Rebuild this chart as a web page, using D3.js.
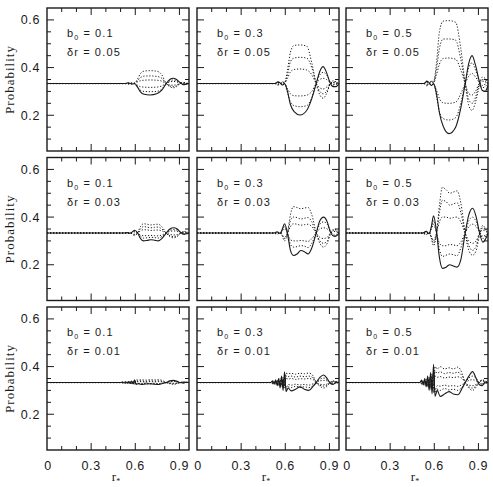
<!DOCTYPE html>
<html><head><meta charset="utf-8">
<script src="https://cdn.jsdelivr.net/npm/d3@7/dist/d3.min.js"></script>
<style>body{margin:0;background:#fff}svg{display:block}</style>
</head><body>
<svg id="chart" width="493" height="487"></svg>
<script>
// ---- data ----
const b0Values = ["0.1", "0.3", "0.5"];
const drValues = ["0.05", "0.03", "0.01"];
const xTickLabels = [0, 0.3, 0.6, 0.9];
const yTickLabels = [0.2, 0.4, 0.6];

// r grids per row (delta r)
const rRow1 = [0, 0.53, 0.55, 0.565, 0.58, 0.595, 0.615, 0.635, 0.66, 0.70, 0.745, 0.78, 0.81, 0.835, 0.857, 0.88, 0.905, 0.925, 0.945, 0.965];
const rRow2 = [0, 0.52, 0.545, 0.565, 0.58, 0.595, 0.615, 0.635, 0.655, 0.68, 0.705, 0.73, 0.755, 0.78, 0.81, 0.835, 0.86, 0.885, 0.905, 0.93, 0.95, 0.965];
const rRow3 = [0, 0.50, 0.515, 0.525, 0.535, 0.545, 0.555, 0.565, 0.575, 0.585, 0.595, 0.605, 0.62, 0.64, 0.67, 0.70, 0.73, 0.76, 0.79, 0.81, 0.835, 0.86, 0.885, 0.905, 0.925, 0.945, 0.965];

// each panel: [solid, dotted1..dotted5]
const row1col1 = [
  [.333,.333,.336,.334,.331,.333,.318,.298,.288,.285,.29,.305,.333,.35,.355,.35,.337,.328,.33,.333],
  [.333,.333,.331,.333,.336,.335,.352,.375,.385,.387,.385,.37,.333,.32,.315,.32,.333,.338,.335,.333],
  [.333,.333,.332,.333,.335,.334,.345,.358,.364,.365,.363,.355,.333,.323,.32,.323,.333,.336,.334,.333],
  [.333,.333,.332,.333,.334,.334,.34,.345,.347,.348,.347,.343,.333,.327,.326,.328,.333,.335,.334,.333],
  [.333,.333,.334,.333,.332,.333,.326,.32,.318,.317,.318,.323,.333,.34,.342,.34,.335,.331,.332,.333],
  [.333,.333,.335,.333,.331,.332,.318,.305,.30,.299,.30,.31,.333,.345,.348,.345,.336,.33,.331,.333]
];
const row1col2 = [
  [.333,.333,.34,.336,.327,.333,.30,.245,.215,.201,.22,.27,.333,.385,.404,.38,.335,.32,.32,.333],
  [.333,.333,.326,.332,.34,.338,.39,.465,.493,.495,.49,.42,.333,.285,.271,.29,.33,.345,.34,.333],
  [.333,.333,.328,.333,.338,.336,.37,.425,.44,.443,.44,.40,.333,.30,.29,.30,.333,.34,.338,.333],
  [.333,.333,.33,.333,.336,.335,.355,.382,.392,.394,.39,.37,.333,.315,.31,.318,.333,.337,.335,.333],
  [.333,.333,.336,.333,.33,.332,.312,.29,.282,.281,.284,.30,.333,.35,.355,.35,.337,.33,.332,.333],
  [.333,.333,.338,.334,.328,.33,.295,.255,.24,.236,.24,.275,.333,.37,.38,.37,.34,.327,.33,.333]
];
const row1col3 = [
  [.333,.333,.343,.337,.325,.333,.29,.21,.155,.123,.15,.23,.333,.42,.45,.41,.345,.305,.30,.325],
  [.333,.333,.323,.33,.345,.34,.42,.55,.595,.597,.59,.48,.333,.24,.22,.255,.32,.36,.355,.335],
  [.333,.333,.326,.332,.342,.338,.395,.48,.52,.52,.515,.435,.333,.265,.25,.275,.33,.35,.345,.333],
  [.333,.333,.329,.333,.338,.336,.37,.415,.438,.44,.435,.39,.333,.29,.285,.30,.333,.343,.34,.333],
  [.333,.333,.337,.333,.328,.33,.305,.27,.252,.25,.255,.29,.333,.365,.375,.36,.338,.325,.33,.333],
  [.333,.333,.34,.334,.325,.33,.28,.215,.186,.18,.19,.25,.333,.40,.42,.39,.343,.315,.32,.333]
];
const row2col1 = [
  [.333,.333,.335,.332,.338,.345,.335,.31,.30,.302,.305,.303,.30,.31,.333,.35,.355,.35,.338,.328,.33,.333],
  [.333,.333,.331,.334,.328,.322,.333,.36,.372,.37,.367,.369,.37,.36,.333,.318,.313,.318,.33,.34,.337,.333],
  [.333,.333,.332,.334,.329,.325,.333,.35,.36,.358,.355,.357,.358,.35,.333,.322,.318,.322,.332,.338,.336,.333],
  [.333,.333,.332,.333,.33,.328,.333,.342,.347,.346,.344,.345,.346,.342,.333,.327,.325,.327,.332,.336,.335,.333],
  [.333,.333,.334,.333,.336,.338,.333,.325,.322,.322,.323,.322,.321,.325,.333,.34,.342,.34,.336,.33,.332,.333],
  [.333,.333,.334,.332,.337,.341,.333,.32,.312,.313,.315,.314,.312,.318,.333,.345,.348,.345,.337,.328,.33,.333]
];
const row2col2 = [
  [.333,.333,.338,.331,.35,.372,.33,.26,.239,.245,.26,.255,.245,.27,.333,.385,.40,.38,.34,.32,.322,.333],
  [.333,.333,.328,.334,.32,.30,.333,.41,.444,.44,.435,.438,.44,.41,.333,.29,.274,.29,.325,.35,.345,.333],
  [.333,.333,.33,.334,.322,.31,.333,.385,.40,.398,.392,.395,.398,.38,.333,.30,.29,.30,.33,.345,.34,.333],
  [.333,.333,.331,.334,.325,.315,.333,.36,.372,.37,.366,.368,.37,.36,.333,.315,.31,.315,.332,.34,.337,.333],
  [.333,.333,.335,.333,.342,.35,.333,.305,.30,.30,.302,.30,.298,.31,.333,.35,.355,.35,.34,.325,.328,.333],
  [.333,.333,.336,.332,.345,.36,.333,.285,.274,.276,.28,.278,.272,.29,.333,.37,.38,.37,.345,.318,.322,.333]
];
const row2col3 = [
  [.333,.333,.34,.33,.36,.405,.34,.23,.185,.19,.20,.195,.19,.22,.333,.41,.437,.40,.34,.295,.31,.33],
  [.333,.333,.326,.335,.31,.28,.33,.45,.525,.515,.50,.505,.51,.46,.333,.26,.24,.26,.32,.365,.35,.335],
  [.333,.333,.328,.334,.315,.29,.33,.42,.47,.465,.45,.455,.46,.42,.333,.28,.26,.28,.325,.355,.345,.333],
  [.333,.333,.33,.334,.32,.30,.333,.38,.40,.40,.395,.398,.40,.38,.333,.30,.29,.30,.33,.345,.34,.333],
  [.333,.333,.336,.333,.35,.37,.333,.29,.28,.28,.285,.283,.28,.295,.333,.36,.37,.36,.34,.32,.325,.333],
  [.333,.333,.338,.332,.355,.385,.333,.265,.235,.24,.245,.242,.238,.27,.333,.385,.40,.38,.345,.31,.32,.333]
];
const row3col1 = [
  [.333,.333,.335,.331,.336,.33,.337,.329,.339,.327,.345,.325,.328,.325,.327,.328,.326,.325,.33,.333,.34,.342,.338,.333,.331,.334,.333],
  [.333,.333,.332,.335,.331,.336,.33,.337,.329,.338,.326,.345,.343,.345,.343,.345,.344,.345,.34,.333,.328,.326,.328,.333,.336,.335,.333],
  [.333,.333,.332,.334,.331,.335,.33,.336,.329,.337,.328,.34,.339,.34,.338,.34,.339,.34,.337,.333,.329,.328,.33,.333,.335,.334,.333],
  [.333,.333,.333,.334,.332,.334,.331,.335,.33,.336,.33,.337,.336,.337,.335,.337,.336,.337,.335,.333,.331,.33,.331,.333,.334,.334,.333],
  [.333,.333,.334,.332,.334,.331,.335,.33,.336,.329,.337,.328,.33,.329,.331,.329,.33,.329,.331,.333,.336,.337,.336,.333,.332,.333,.333],
  [.333,.333,.334,.332,.335,.331,.336,.329,.337,.328,.34,.326,.328,.327,.329,.327,.328,.327,.33,.333,.338,.339,.337,.333,.332,.333,.333]
];
const row3col2 = [
  [.333,.333,.34,.326,.345,.32,.35,.31,.36,.30,.378,.295,.31,.298,.305,.315,.305,.30,.318,.333,.355,.365,.35,.33,.325,.335,.333],
  [.333,.333,.328,.338,.325,.343,.32,.35,.315,.355,.31,.372,.37,.372,.368,.372,.37,.373,.36,.333,.318,.31,.318,.333,.34,.337,.333],
  [.333,.333,.33,.336,.328,.34,.325,.345,.32,.348,.316,.36,.358,.36,.356,.36,.358,.36,.352,.333,.322,.318,.323,.334,.338,.335,.333],
  [.333,.333,.331,.335,.33,.337,.328,.34,.325,.342,.322,.35,.348,.35,.346,.349,.348,.35,.345,.333,.326,.324,.327,.334,.336,.335,.333],
  [.333,.333,.335,.331,.337,.328,.34,.325,.345,.318,.35,.31,.325,.322,.326,.323,.325,.322,.328,.333,.34,.342,.34,.333,.33,.331,.333],
  [.333,.333,.336,.33,.34,.326,.343,.32,.35,.312,.358,.305,.315,.312,.317,.313,.315,.312,.32,.333,.347,.352,.345,.334,.328,.33,.333]
];
const row3col3 = [
  [.333,.333,.343,.323,.35,.315,.36,.30,.375,.285,.41,.275,.30,.275,.285,.295,.285,.282,.31,.333,.36,.379,.35,.325,.32,.335,.333],
  [.333,.333,.327,.34,.322,.348,.315,.356,.305,.37,.29,.40,.39,.40,.39,.395,.39,.398,.37,.333,.31,.30,.315,.335,.345,.34,.333],
  [.333,.333,.328,.338,.325,.345,.318,.352,.31,.36,.30,.38,.372,.378,.37,.375,.372,.376,.36,.333,.315,.31,.32,.335,.342,.338,.333],
  [.333,.333,.33,.336,.328,.34,.322,.346,.318,.35,.312,.36,.355,.358,.352,.356,.354,.357,.35,.333,.322,.32,.325,.334,.34,.336,.333],
  [.333,.333,.336,.33,.338,.326,.342,.32,.35,.31,.36,.30,.32,.318,.322,.318,.32,.317,.325,.333,.342,.345,.34,.333,.328,.33,.333],
  [.333,.333,.338,.328,.342,.322,.348,.312,.36,.30,.375,.29,.305,.30,.308,.302,.305,.30,.315,.333,.352,.36,.35,.335,.325,.328,.333]
];

const rGrids = [rRow1, rRow2, rRow3];
const panelSeries = [
  [row1col1, row1col2, row1col3],
  [row2col1, row2col2, row2col3],
  [row3col1, row3col2, row3col3]
];

// ---- layout ----
const panelLeft = [47, 197, 346];
const panelTop = [8, 157.5, 307];
const W = 142, H = 143;
const ink = "#1a1a1a";

const svg = d3.select("#chart");
svg.append("rect").attr("width", 493).attr("height", 487).attr("fill", "#fff");

const x = d3.scaleLinear().domain([0, 0.965]).range([0, W]);
const y = d3.scaleLinear().domain([0.05, 0.65]).range([H, 0]);

const xTicks = d3.range(1, 10).map(d => d / 10);
const yTicks = d3.range(2, 13).map(d => d * 0.05);
const isMajorX = v => Math.abs(v * 10 % 3) < 1e-6 || Math.abs(v * 10 % 3 - 3) < 1e-6;
const isMajorY = v => Math.abs((v / 0.2) - Math.round(v / 0.2)) < 1e-6;

const line = d3.line().curve(d3.curveMonotoneX);

for (let row = 0; row < 3; row++) {
  for (let col = 0; col < 3; col++) {
    const g = svg.append("g").attr("transform", `translate(${panelLeft[col]},${panelTop[row]})`);
    const rs = rGrids[row];
    const series = panelSeries[row][col];

    series.forEach((vals, i) => {
      const pts = rs.map((r, k) => [x(r), y(vals[k])]);
      g.append("path")
        .attr("d", line(pts))
        .attr("fill", "none")
        .attr("stroke", ink)
        .attr("stroke-width", i === 0 ? 1.1 : 1.0)
        .attr("stroke-dasharray", i === 0 ? null : "1.2,1.8");
    });

    const tk = g.append("g").attr("stroke", ink).attr("stroke-width", 1);
    xTicks.forEach(v => {
      const L = isMajorX(v) ? 7 : 4;
      const px = x(v);
      tk.append("line").attr("x1", px).attr("x2", px).attr("y1", 0).attr("y2", L);
      tk.append("line").attr("x1", px).attr("x2", px).attr("y1", H).attr("y2", H - L);
    });
    yTicks.forEach(v => {
      const L = isMajorY(v) ? 7 : 4;
      const py = y(v);
      tk.append("line").attr("x1", 0).attr("x2", L).attr("y1", py).attr("y2", py);
      tk.append("line").attr("x1", W).attr("x2", W - L).attr("y1", py).attr("y2", py);
    });

    g.append("rect").attr("x", 0).attr("y", 0).attr("width", W).attr("height", H)
      .attr("fill", "none").attr("stroke", ink).attr("stroke-width", 1.4);

    const ann = g.append("g").attr("font-family", "'Liberation Sans', Arial, sans-serif")
      .attr("font-size", 11).attr("fill", ink).attr("letter-spacing", 1.2);
    const t1 = ann.append("text").attr("x", 20).attr("y", 29);
    t1.append("tspan").text("b");
    t1.append("tspan").attr("font-size", 7).attr("dy", 3).text("0");
    t1.append("tspan").attr("dy", -3).attr("dx", 4).text("=");
    t1.append("tspan").attr("dx", 4).text(b0Values[col]);
    const t2 = ann.append("text").attr("x", 20).attr("y", 48);
    t2.append("tspan").text("δr");
    t2.append("tspan").attr("dx", 4).text("=");
    t2.append("tspan").attr("dx", 4).text(drValues[row]);

    if (col === 0) {
      yTickLabels.forEach(v => {
        g.append("text").attr("x", -7).attr("y", y(v) + 4.5)
          .attr("text-anchor", "end")
          .attr("font-family", "'Liberation Sans', Arial, sans-serif")
          .attr("font-size", 12.5).attr("letter-spacing", 0.6).attr("fill", ink)
          .text(v.toFixed(1));
      });
      g.append("text")
        .attr("transform", `translate(-33,${H / 2}) rotate(-90)`)
        .attr("text-anchor", "middle")
        .attr("font-family", "'Liberation Serif', 'Times New Roman', serif")
        .attr("font-size", 13).attr("letter-spacing", 1).attr("fill", ink)
        .text("Probability");
    }

    if (row === 2) {
      xTickLabels.forEach(v => {
        g.append("text").attr("x", x(v) + (v === 0 ? 1 : 0)).attr("y", H + 20)
          .attr("text-anchor", "middle")
          .attr("font-family", "'Liberation Sans', Arial, sans-serif")
          .attr("font-size", 12.5).attr("letter-spacing", 0.6).attr("fill", ink)
          .text(v === 0 ? "0" : v.toFixed(1));
      });
      const xt = g.append("text").attr("x", W / 2 - 2).attr("y", H + 31)
        .attr("text-anchor", "middle")
        .attr("font-family", "'Liberation Serif', 'Times New Roman', serif")
        .attr("font-size", 13).attr("fill", ink);
      xt.append("tspan").text("r");
      xt.append("tspan").attr("font-size", 8).attr("dy", 2.5).text("*");
    }
  }
}
</script>
</body></html>
